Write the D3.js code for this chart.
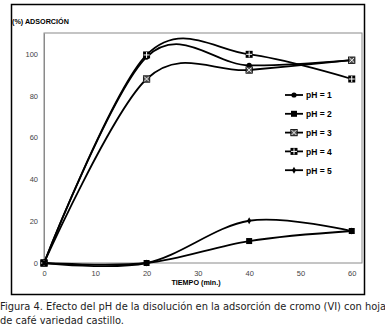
<!DOCTYPE html>
<html>
<head>
<meta charset="utf-8">
<script src="https://cdn.jsdelivr.net/npm/d3@7"></script>
<style>
  body { margin: 0; background: #fff; }
  svg { display: block; }
</style>
</head>
<body>
<div id="chart"></div>
<script>
// values (% adsorcion vs tiempo, min)
const tiempos = [0, 20, 40, 60];
const ph1 = [0, 98.5, 94.5, 97];
const ph2 = [0, 0, 10.5, 15.3];
const ph3 = [0, 88, 92.3, 97];
const ph4 = [0, 99.5, 99.8, 88];
const ph5 = [0, 0, 20.2, 15.3];
const seriesNames = ["pH = 1", "pH = 2", "pH = 3", "pH = 4", "pH = 5"];
const yTicks = [0, 20, 40, 60, 80, 100];
const xTicks = [0, 10, 20, 30, 40, 50, 60];

const W = 385, H = 329;
const svg = d3.select("#chart").append("svg")
  .attr("width", W).attr("height", H);

// outer chart border
svg.append("rect")
  .attr("x", 11.5).attr("y", 4.5).attr("width", 353).attr("height", 290)
  .attr("fill", "#fff").attr("stroke", "#000").attr("stroke-width", 1.5);

const plot = { left: 44, right: 362, top: 33, bottom: 263 };
const x = d3.scaleLinear().domain([0, 62]).range([plot.left, plot.right]);
const y = d3.scaleLinear().domain([0, 110]).range([plot.bottom, plot.top]);

// plot frame
svg.append("rect")
  .attr("x", plot.left).attr("y", plot.top)
  .attr("width", plot.right - plot.left).attr("height", plot.bottom - plot.top)
  .attr("fill", "none").attr("stroke", "#8a8a8a").attr("stroke-width", 1);

const tickFont = "'Liberation Sans', Arial, sans-serif";

const yAxis = svg.append("g")
  .attr("transform", `translate(${plot.left},0)`)
  .call(d3.axisLeft(y).tickValues(yTicks).tickSize(0).tickPadding(6));
yAxis.select(".domain").attr("stroke", "#8a8a8a");
yAxis.selectAll("text").attr("font-family", tickFont).attr("font-size", 7.5).attr("fill", "#444");

const xAxis = svg.append("g")
  .attr("transform", `translate(0,${plot.bottom})`)
  .call(d3.axisBottom(x).tickValues(xTicks).tickSize(0).tickPadding(8));
xAxis.select(".domain").remove();
xAxis.selectAll("text").attr("font-family", tickFont).attr("font-size", 7.5).attr("fill", "#444");

// axis titles
svg.append("text")
  .attr("x", 12).attr("y", 24)
  .attr("font-family", tickFont).attr("font-size", 7.2).attr("font-weight", "bold")
  .text("(%) ADSORCIÓN");

svg.append("text")
  .attr("x", 196).attr("y", 285)
  .attr("text-anchor", "middle")
  .attr("font-family", tickFont).attr("font-size", 7.2).attr("font-weight", "bold")
  .text("TIEMPO (min.)");

// series
const series = [ph1, ph2, ph3, ph4, ph5].map((vals, i) => ({
  name: seriesNames[i],
  marker: i,
  points: tiempos.map((t, j) => ({ t, v: vals[j] }))
}));

const line = d3.line()
  .x(d => x(d.t))
  .y(d => y(d.v))
  .curve(d3.curveCardinal.tension(0));

function drawMarker(g, type, cx, cy) {
  const m = g.append("g").attr("transform", `translate(${cx},${cy})`);
  if (type === 0) {
    m.append("circle").attr("r", 2.6).attr("fill", "#000");
  } else if (type === 1) {
    m.append("rect").attr("x", -3).attr("y", -3).attr("width", 6).attr("height", 6).attr("fill", "#000");
  } else if (type === 2) {
    m.append("rect").attr("x", -3.2).attr("y", -3.2).attr("width", 6.4).attr("height", 6.4)
      .attr("fill", "#555").attr("stroke", "#000").attr("stroke-width", 0.8);
    m.append("path").attr("d", "M-2.4,-2.4L2.4,2.4M-2.4,2.4L2.4,-2.4")
      .attr("stroke", "#fff").attr("stroke-width", 0.9);
  } else if (type === 3) {
    m.append("rect").attr("x", -3.5).attr("y", -3.5).attr("width", 7).attr("height", 7).attr("fill", "#000");
    m.append("path").attr("d", "M0,-3L0,3M-3,0L3,0")
      .attr("stroke", "#fff").attr("stroke-width", 1);
  } else {
    m.append("path").attr("d", d3.symbol(d3.symbolDiamond, 14)()).attr("fill", "#000");
  }
}

series.forEach(s => {
  const g = svg.append("g");
  g.append("path")
    .datum(s.points)
    .attr("d", line)
    .attr("fill", "none")
    .attr("stroke", "#000")
    .attr("stroke-width", 1.8);
  s.points.forEach(p => drawMarker(g, s.marker, x(p.t), y(p.v)));
});

// legend
const lg = svg.append("g").attr("transform", "translate(285,95)");
series.forEach((s, i) => {
  const row = lg.append("g").attr("transform", `translate(0,${i * 18.8})`);
  row.append("line").attr("x1", 0).attr("x2", 18).attr("y1", 0).attr("y2", 0)
    .attr("stroke", "#000").attr("stroke-width", 1.8);
  drawMarker(row, s.marker, 9, 0);
  row.append("text").attr("x", 21).attr("y", 3.3)
    .attr("font-family", tickFont).attr("font-size", 8.5).attr("font-weight", "bold")
    .text(s.name);
});

// caption
const capFont = "'DejaVu Sans', sans-serif";
svg.append("text").attr("x", 0).attr("y", 310)
  .attr("font-family", capFont).attr("font-size", 9.9).attr("fill", "#222")
  .text("Figura 4. Efecto del pH de la disolución en la adsorción de cromo (VI) con hoja");
svg.append("text").attr("x", 0).attr("y", 324)
  .attr("font-family", capFont).attr("font-size", 9.9).attr("fill", "#222")
  .text("de café variedad castillo.");
</script>
</body>
</html>
